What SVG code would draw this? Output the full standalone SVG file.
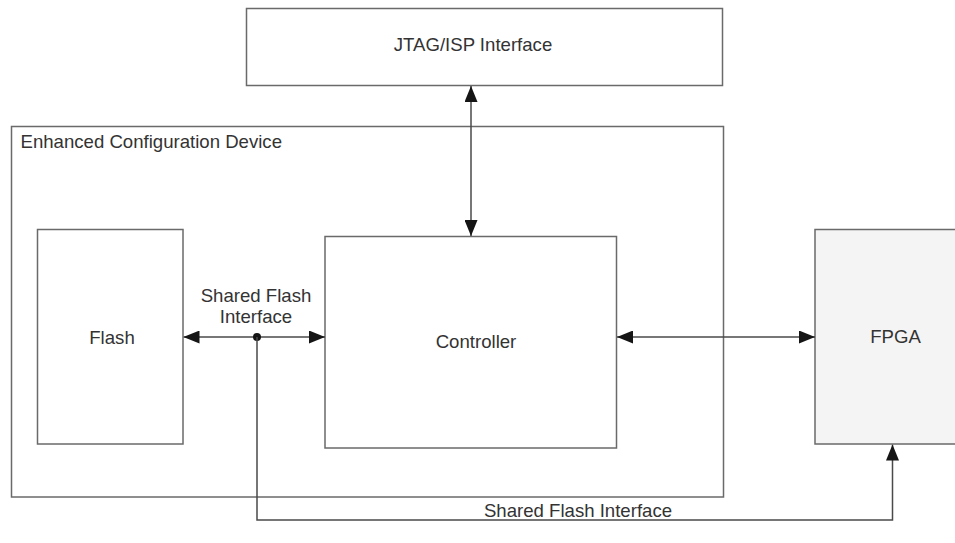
<svg xmlns="http://www.w3.org/2000/svg" width="955" height="543" viewBox="0 0 955 543">
  <style>
    .box { fill: #ffffff; stroke: #6a6a6a; stroke-width: 1.5; }
    .chip { fill: #f3f4f3; stroke: #6a6a6a; stroke-width: 1.5; }
    .lbl { font-family: "Liberation Sans", Arial, sans-serif; font-size: 18.6px; fill: #333333; }
    .mid { text-anchor: middle; }
    .wire { fill: none; stroke: #4a4a4a; stroke-width: 1.5; }
  </style>
  <defs>
    <marker id="tip" viewBox="0 0 16 13" refX="16" refY="6.5" markerWidth="16" markerHeight="13" markerUnits="userSpaceOnUse" orient="auto-start-reverse">
      <path d="M0,0 L16,6.5 L0,13 Z" fill="#151515"/>
    </marker>
  </defs>

  <rect width="955" height="543" fill="#ffffff"/>

  <g id="jtag">
    <rect class="box" x="246.5" y="8.5" width="476" height="77"/>
    <text class="lbl mid" x="473" y="51">JTAG/ISP Interface</text>
  </g>

  <g id="device">
    <rect class="box" x="11.5" y="126.5" width="712" height="370.5"/>
    <text class="lbl" x="20.5" y="148">Enhanced Configuration Device</text>
  </g>

  <g id="flash">
    <rect class="box" x="37.5" y="229.5" width="145.5" height="214.5"/>
    <text class="lbl mid" x="112" y="344">Flash</text>
  </g>

  <g id="controller">
    <rect class="box" x="325" y="236.5" width="291.5" height="211.5"/>
    <text class="lbl mid" x="476" y="348">Controller</text>
  </g>

  <g id="fpga">
    <rect class="chip" x="815" y="229.5" width="150" height="214.5"/>
    <text class="lbl mid" x="895.5" y="343">FPGA</text>
  </g>

  <g id="connectors">
    <line class="wire" x1="471" y1="86" x2="471" y2="236" marker-start="url(#tip)" marker-end="url(#tip)"/>
    <line class="wire" x1="183.5" y1="337" x2="325" y2="337" marker-start="url(#tip)" marker-end="url(#tip)"/>
    <line class="wire" x1="617" y1="337" x2="815" y2="337" marker-start="url(#tip)" marker-end="url(#tip)"/>
    <circle cx="257" cy="337" r="4" fill="#151515"/>
    <polyline class="wire" points="257,337 257,520 892.5,520 892.5,444.5" marker-end="url(#tip)"/>
    <text class="lbl mid" x="256" y="302">Shared Flash</text>
    <text class="lbl mid" x="256" y="323">Interface</text>
    <text class="lbl mid" x="578" y="517">Shared Flash Interface</text>
  </g>
</svg>
